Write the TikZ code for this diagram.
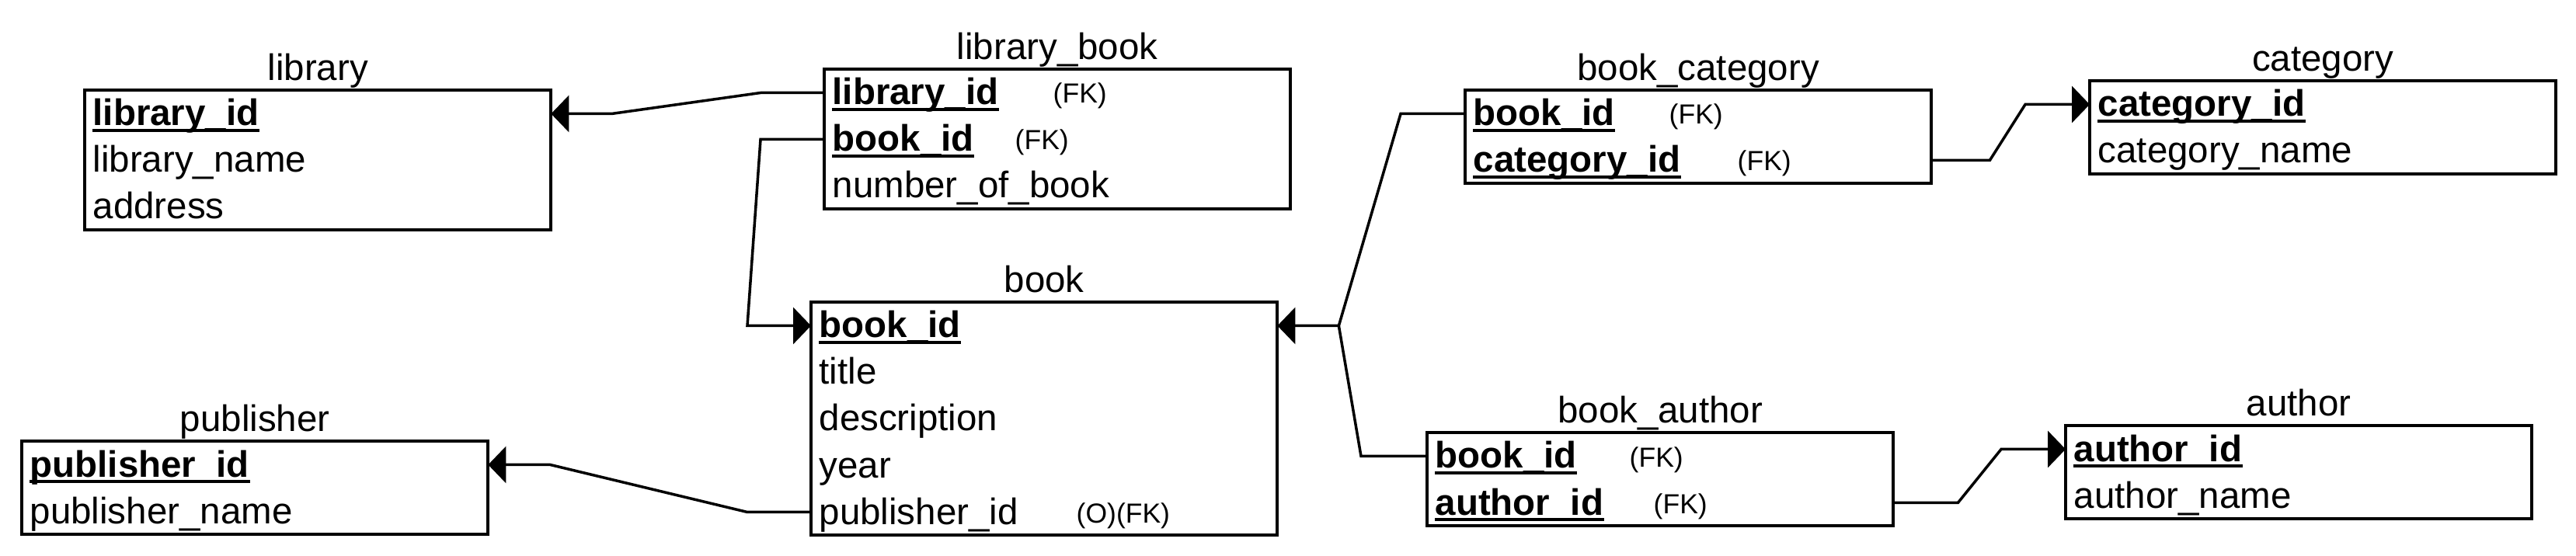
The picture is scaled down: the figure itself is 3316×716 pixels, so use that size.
\documentclass[tikz,border=0pt]{standalone}
\usepackage{fontspec}
\setmainfont{Liberation Sans}
\usetikzlibrary{arrows.meta,calc}
\newcommand\mainf{\fontsize{13.5}{16}\selectfont}
\newcommand\fkf{\fontsize{10.1}{12}\selectfont}
\begin{document}
\begin{tikzpicture}[x=0.01cm,y=-0.01cm,
  tbl/.style={draw, line width=0.04cm, anchor=north west, minimum width=6cm, inner sep=0pt, outer sep=0pt},
  ttl/.style={anchor=base, inner sep=0pt, font=\mainf},
  row/.style={anchor=base west, inner sep=0pt, text height=0.31cm, text depth=0pt, font=\mainf},
  keyrow/.style={row, font=\mainf\bfseries},
  fkt/.style={anchor=base west, inner sep=0pt, font=\fkf},
  conn/.style={line width=0.035cm},
  arr/.style={conn, -{Triangle[length=0.23cm,width=0.47cm]}},
  ul/.style={line width=0.035cm}]
\useasboundingbox (0,0) rectangle (3316,716);

% library
\node[tbl, minimum height=1.8cm] (lib) at (109,116) {};
\node[ttl] (lib-t) at ($(lib.north)+(0,-12)$) {library};
\node[keyrow] (lib-1) at ($(lib.north west)+(10,46)$) {library\_id};
\node[row] (lib-2) at ($(lib.north west)+(10,106)$) {library\_name};
\node[row] (lib-3) at ($(lib.north west)+(10,166)$) {address};

% library_book
\node[tbl, minimum height=1.8cm] (lbk) at (1061,89) {};
\node[ttl] (lbk-t) at ($(lbk.north)+(0,-12)$) {library\_book};
\node[keyrow] (lbk-1) at ($(lbk.north west)+(10,46)$) {library\_id};
\node[fkt] (lbk-1f) at ($(lbk.north west)+(294,44)$) {(FK)};
\node[keyrow] (lbk-2) at ($(lbk.north west)+(10,106)$) {book\_id};
\node[fkt] (lbk-2f) at ($(lbk.north west)+(245,104)$) {(FK)};
\node[row] (lbk-3) at ($(lbk.north west)+(10,166)$) {number\_of\_book};

% book
\node[tbl, minimum height=3cm] (bk) at (1044,389) {};
\node[ttl] (bk-t) at ($(bk.north)+(0,-12)$) {book};
\node[keyrow] (bk-1) at ($(bk.north west)+(10,46)$) {book\_id};
\node[row] (bk-2) at ($(bk.north west)+(10,106)$) {title};
\node[row] (bk-3) at ($(bk.north west)+(10,166)$) {description};
\node[row] (bk-4) at ($(bk.north west)+(10,226)$) {year};
\node[row] (bk-5) at ($(bk.north west)+(10,286)$) {publisher\_id};
\node[fkt] (bk-5f) at ($(bk.north west)+(341,284)$) {(O)(FK)};

% publisher
\node[tbl, minimum height=1.2cm] (pub) at (28,568) {};
\node[ttl] (pub-t) at ($(pub.north)+(0,-12)$) {publisher};
\node[keyrow] (pub-1) at ($(pub.north west)+(10,46)$) {publisher\_id};
\node[row] (pub-2) at ($(pub.north west)+(10,106)$) {publisher\_name};

% book_category
\node[tbl, minimum height=1.2cm] (bcat) at (1886,116) {};
\node[ttl] (bcat-t) at ($(bcat.north)+(0,-12)$) {book\_category};
\node[keyrow] (bcat-1) at ($(bcat.north west)+(10,46)$) {book\_id};
\node[fkt] (bcat-1f) at ($(bcat.north west)+(262,44)$) {(FK)};
\node[keyrow] (bcat-2) at ($(bcat.north west)+(10,106)$) {category\_id};
\node[fkt] (bcat-2f) at ($(bcat.north west)+(350,104)$) {(FK)};

% category
\node[tbl, minimum height=1.2cm] (cat) at (2690,104) {};
\node[ttl] (cat-t) at ($(cat.north)+(0,-12)$) {category};
\node[keyrow] (cat-1) at ($(cat.north west)+(10,46)$) {category\_id};
\node[row] (cat-2) at ($(cat.north west)+(10,106)$) {category\_name};

% book_author
\node[tbl, minimum height=1.2cm] (bau) at (1837,557) {};
\node[ttl] (bau-t) at ($(bau.north)+(0,-12)$) {book\_author};
\node[keyrow] (bau-1) at ($(bau.north west)+(10,46)$) {book\_id};
\node[fkt] (bau-1f) at ($(bau.north west)+(260,44)$) {(FK)};
\node[keyrow] (bau-2) at ($(bau.north west)+(10,106)$) {author\_id};
\node[fkt] (bau-2f) at ($(bau.north west)+(291,104)$) {(FK)};

% author
\node[tbl, minimum height=1.2cm] (au) at (2659,548) {};
\node[ttl] (au-t) at ($(au.north)+(0,-12)$) {author};
\node[keyrow] (au-1) at ($(au.north west)+(10,46)$) {author\_id};
\node[row] (au-2) at ($(au.north west)+(10,106)$) {author\_name};

% underlines of key fields
\foreach \n in {lib-1,lbk-1,lbk-2,bk-1,pub-1,bcat-1,bcat-2,cat-1,bau-1,bau-2,au-1}
  \draw[ul] ([yshift=-0.06cm]\n.base west) -- ([yshift=-0.06cm]\n.base east);

% connectors
\coordinate (jn) at ($(bk.east |- bk-1.center)+(79,0)$);
\draw[arr] (lbk.west |- lbk-1.center) -- ++(-82,0) -- ($(lib.east |- lib-1.center)+(78,0)$) -- (lib.east |- lib-1.center);
\draw[arr] (lbk.west |- lbk-2.center) -- ++(-82,0) -- ($(bk.west |- bk-1.center)+(-82,0)$) -- (bk.west |- bk-1.center);
\draw[arr] (bcat.west |- bcat-1.center) -- ++(-83,0) -- (jn) -- (bk.east |- bk-1.center);
\draw[conn] (bau.west |- bau-1.center) -- ++(-85,0) -- (jn);
\draw[arr] (bcat.east |- bcat-2.center) -- ++(75,0) -- ($(cat.west |- cat-1.center)+(-83,0)$) -- (cat.west |- cat-1.center);
\draw[arr] (bau.east |- bau-2.center) -- ++(83,0) -- ($(au.west |- au-1.center)+(-83,0)$) -- (au.west |- au-1.center);
\draw[arr] (bk.west |- bk-5.center) -- ++(-82,0) -- ($(pub.east |- pub-1.center)+(80,0)$) -- (pub.east |- pub-1.center);
\end{tikzpicture}
\end{document}
